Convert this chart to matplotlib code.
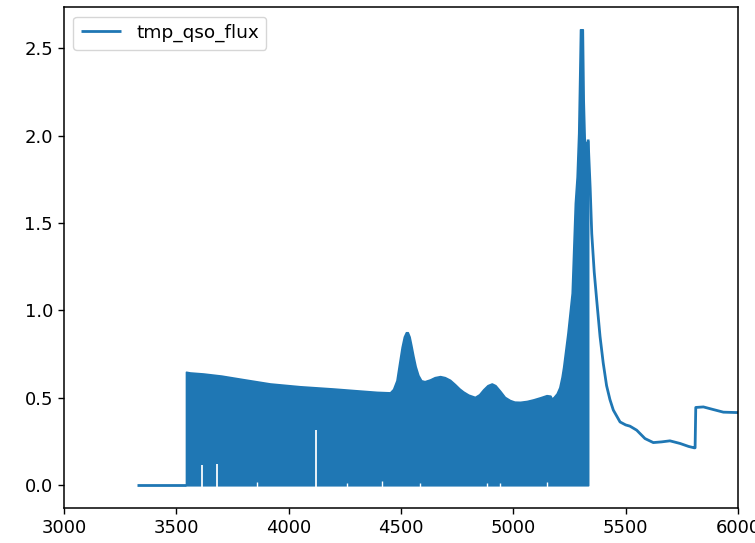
import matplotlib
matplotlib.use("Agg")
import matplotlib.pyplot as plt

# ---- data ----
zero_wl = [3325, 3543]
zero_flux = [0.0, 0.0]

# upper envelope of the Lyman-alpha forest region
forest_wl = [3543, 3560, 3620, 3700, 3800, 3917, 4050, 4200, 4300, 4392, 4451,
             4465, 4480, 4492, 4503, 4513, 4522, 4530, 4538, 4546, 4555, 4565,
             4577, 4590, 4605, 4629, 4650, 4674, 4695, 4718, 4740, 4760, 4777,
             4800, 4829, 4848, 4866, 4885, 4904, 4920, 4941, 4962, 4985, 5005,
             5030, 5060, 5089, 5120, 5148, 5165, 5171, 5180, 5193, 5205, 5215,
             5222, 5241, 5260, 5274, 5282, 5289, 5294, 5297, 5309, 5313, 5318,
             5326, 5333]
forest_top = [0.649, 0.645, 0.639, 0.627, 0.606, 0.582, 0.566, 0.553, 0.543, 0.534, 0.531,
              0.55, 0.60, 0.70, 0.79, 0.85, 0.875, 0.875, 0.85, 0.80, 0.74, 0.68,
              0.63, 0.60, 0.595, 0.605, 0.618, 0.624, 0.618, 0.603, 0.578, 0.553, 0.536,
              0.518, 0.505, 0.52, 0.548, 0.572, 0.582, 0.572, 0.54, 0.505, 0.487, 0.478,
              0.477, 0.482, 0.491, 0.503, 0.515, 0.512, 0.495, 0.505, 0.525, 0.56, 0.62,
              0.677, 0.87, 1.10, 1.614, 1.765, 2.015, 2.375, 2.608, 2.608, 2.2, 1.96,
              1.965, 1.97]

# narrow gaps where the forest does not reach zero
gap_wl = [3616, 3682, 4122]
gap_top = [0.114, 0.12, 0.315]

# small bumps on the lower envelope
bump_wl = [3858, 4258, 4414, 4583, 4881, 4941, 5148]
bump_top = [0.02, 0.012, 0.025, 0.015, 0.015, 0.015, 0.02]

# smooth part redward of Lyman-alpha
smooth_wl = [5333, 5342, 5349, 5360, 5371, 5386, 5400, 5415, 5430, 5445, 5475,
             5500, 5519, 5549, 5586, 5623, 5660, 5697, 5742, 5780, 5805, 5809,
             5812, 5846, 5890, 5935, 5990, 6050]
smooth_flux = [1.97, 1.70, 1.44, 1.22, 1.06, 0.85, 0.70, 0.57, 0.49, 0.43, 0.362,
               0.345, 0.338, 0.315, 0.267, 0.244, 0.248, 0.254, 0.239, 0.222, 0.214, 0.214,
               0.445, 0.448, 0.433, 0.418, 0.416, 0.415]

series_label = "tmp_qso_flux"
xticks = [3000, 3500, 4000, 4500, 5000, 5500, 6000]
yticks = [0.0, 0.5, 1.0, 1.5, 2.0, 2.5]

# ---- figure ----
plt.rcParams['font.family'] = ['DejaVu Sans']
fig = plt.figure(figsize=(7.55, 5.43), dpi=100)
ax = fig.add_axes([64 / 755, (543 - 508) / 543, 674 / 755, (508 - 7.3) / 543])

color = '#1f77b4'
lw = 2.0

ax.plot(zero_wl, zero_flux, color=color, lw=lw, label=series_label, solid_capstyle='butt')
ax.fill_between(forest_wl, 0, forest_top, color=color, lw=1.2, edgecolor=color)
ax.plot(smooth_wl, smooth_flux, color=color, lw=lw)
ax.vlines(gap_wl, -0.012, gap_top, color='white', lw=1.4, alpha=0.9)
ax.vlines(bump_wl, -0.012, bump_top, color='white', lw=1.0)

ax.set_xlim(3000, 6000)
ax.set_ylim(-0.1302, 2.734)
ax.set_xticks(xticks)
ax.set_yticks(yticks)
ax.tick_params(labelsize=13, length=4.5, width=1.0)
for s in ax.spines.values():
    s.set_linewidth(1.1)

ax.legend(loc='upper left', fontsize=13.3, handlelength=2.2)

fig.savefig("out.png", dpi=100)
